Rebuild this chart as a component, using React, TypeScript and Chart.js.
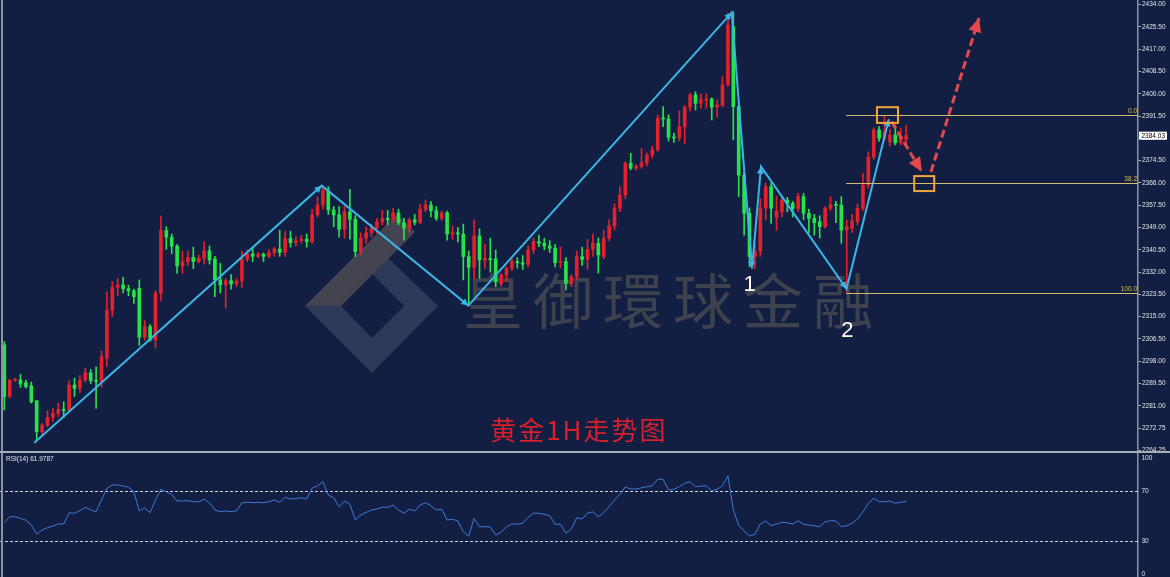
import React, { useEffect, useRef } from 'react';
import { Chart, registerables } from 'chart.js';

Chart.register(...registerables);

// ---------- data (1H gold candles, index 0..167) ----------
const opens = [
  2304.2, 2284.5, 2290.8, 2290.8, 2289.8, 2288.6, 2282.9, 2271.1, 2273.6, 2276.6,
  2278.1, 2279.6, 2279.4, 2288.9, 2287.6, 2290.8, 2293.6, 2290.6, 2290.3, 2299.1,
  2317.5, 2326.2, 2327.1, 2325.7, 2324.8, 2325.8, 2307.1, 2311.2, 2306.1, 2323.9,
  2347.8, 2345.3, 2341.9, 2334.3, 2336, 2337.6, 2336, 2337.3, 2340.1, 2337,
  2329, 2327.1, 2328.7, 2327.5, 2328.6, 2336.9, 2338.9, 2338, 2338.8, 2338,
  2339.4, 2340.8, 2339.5, 2344.9, 2343.2, 2344, 2344.5, 2343.6, 2353.8, 2357.6,
  2363.3, 2355.7, 2353.8, 2348.3, 2355, 2352.1, 2339.8, 2344.9, 2347, 2348.7,
  2351.2, 2352.5, 2351.9, 2354.6, 2350.8, 2348.7, 2351.9, 2351, 2355.9, 2357.6,
  2355.4, 2352.5, 2354.6, 2346.5, 2347, 2346.5, 2337.9, 2333.8, 2345.8, 2336.6,
  2337.2, 2337, 2327.5, 2330.9, 2333.4, 2336, 2335.5, 2335, 2340.4, 2343.6,
  2343, 2342, 2341.1, 2335.6, 2336, 2327.7, 2330.2, 2337.9, 2336.8, 2340.7,
  2343, 2337.9, 2344.9, 2349.6, 2356.3, 2361.4, 2373.5, 2371.6, 2372.3, 2373.7,
  2376.6, 2378.6, 2390.7, 2390.4, 2383.4, 2383.2, 2387.5, 2394.9, 2399.6, 2396.4,
  2397.5, 2398, 2394.9, 2395.7, 2403.4, 2425.6, 2395.1, 2369, 2354.4, 2337.9,
  2340, 2356.4, 2364.6, 2352.9, 2355, 2359.5, 2358.2, 2356.3, 2360.8, 2354.4,
  2352.5, 2351.2, 2349.3, 2356.3, 2357.6, 2357.6, 2348, 2348.7, 2351.2, 2356.3,
  2365.2, 2375.8, 2386.2, 2383, 2381.7, 2384.3, 2381.3, 2382.6,
];
const highs = [
  2305.5, 2291, 2291.5, 2293, 2290.8, 2290, 2283, 2274.3, 2279, 2280,
  2282, 2282.5, 2290.5, 2291.5, 2292.5, 2295.3, 2294.8, 2295.8, 2302, 2324.5,
  2328.3, 2329.5, 2330, 2327, 2325.5, 2329, 2313.5, 2312, 2325, 2353.4,
  2349.3, 2346.5, 2342.5, 2340, 2340, 2341.5, 2338.5, 2343.6, 2342, 2338,
  2335.3, 2329.5, 2331, 2329.5, 2340, 2340.5, 2341, 2339.5, 2339.3, 2340.6,
  2341.5, 2348, 2347.5, 2347.6, 2345.5, 2346, 2346.5, 2355.9, 2360.8, 2364.9,
  2364.6, 2357, 2357, 2357, 2363.6, 2353.5, 2347, 2349.3, 2350.3, 2352.5,
  2355.6, 2355.5, 2356.3, 2356, 2352.5, 2352.5, 2354, 2357.8, 2359.5, 2359,
  2357, 2355.3, 2355.3, 2349.5, 2349, 2350.3, 2340, 2351.9, 2348.5, 2342.7,
  2344.9, 2340.4, 2331.5, 2334, 2337, 2337.5, 2338.3, 2342, 2345, 2346.1,
  2344.9, 2344, 2342.5, 2341.5, 2337.5, 2331, 2340, 2341.5, 2344.5, 2346.5,
  2345, 2348, 2352, 2358, 2364.6, 2374.1, 2377.3, 2373, 2379.2, 2377.5,
  2380, 2392, 2395.1, 2392, 2385, 2393.5, 2395.5, 2400.3, 2400.8, 2400,
  2400, 2398.5, 2397.7, 2406.5, 2430.7, 2431.3, 2395.5, 2370, 2356.5, 2343,
  2360, 2366, 2366, 2361, 2361, 2360.5, 2359, 2362, 2362, 2356,
  2354, 2353.5, 2357, 2360.8, 2359, 2360.8, 2351.9, 2354, 2358, 2369.7,
  2377.9, 2387, 2387.5, 2391.8, 2386.5, 2388, 2387, 2388,
];
const lows = [
  2279.4, 2284, 2290.3, 2288, 2287.8, 2282, 2267.9, 2270, 2273, 2275,
  2276.8, 2276.5, 2279, 2284.5, 2286, 2290, 2289.5, 2280, 2288, 2296,
  2315, 2323, 2324, 2323, 2320, 2304, 2306, 2305.5, 2303, 2321,
  2340.7, 2339, 2331.5, 2331.5, 2334.5, 2333.3, 2335.5, 2335, 2335, 2322.6,
  2324, 2318.2, 2325.5, 2326.5, 2326, 2336, 2336, 2337.5, 2336, 2337.5,
  2338, 2338, 2338, 2341.5, 2342, 2343, 2341.5, 2343, 2353, 2356,
  2354, 2349.3, 2345.3, 2345, 2344.5, 2337.9, 2338.5, 2343, 2345.4, 2346.7,
  2350, 2350, 2351, 2350, 2344.2, 2347, 2350, 2350.5, 2355, 2353,
  2351.7, 2351.7, 2344.2, 2344.5, 2343.5, 2329, 2319.8, 2329.6, 2329.6, 2333.4,
  2332, 2326.4, 2326.5, 2328.5, 2332.5, 2333.5, 2333, 2334, 2339, 2341.7,
  2340.5, 2339.5, 2334, 2333.5, 2325.2, 2326.5, 2329, 2334.5, 2333, 2338,
  2331.6, 2337, 2344, 2348, 2355, 2360, 2371, 2371, 2371.6, 2372.5,
  2375.5, 2378, 2387.5, 2382, 2381.5, 2382, 2381, 2393.5, 2393.8, 2394.5,
  2394.5, 2390, 2391, 2395, 2403, 2382.4, 2360.8, 2346.1, 2334, 2333.2,
  2338, 2352, 2350.6, 2348, 2353, 2355, 2353, 2355, 2352, 2347,
  2346.1, 2345, 2348.7, 2355.5, 2350.8, 2343, 2324.2, 2347, 2350, 2355.5,
  2364, 2375, 2381.8, 2382, 2380, 2380.5, 2380.5, 2381,
];
const closes = [
  2284.5, 2290.8, 2291.2, 2289.3, 2288.3, 2282.5, 2271.1, 2273.6, 2276.6, 2278.1,
  2279.6, 2279.2, 2288.9, 2287.6, 2290.8, 2293.6, 2290.6, 2290.3, 2299.7, 2317.5,
  2326.2, 2327.1, 2325.7, 2324.8, 2322.6, 2307.1, 2311.2, 2306.1, 2323.9, 2347.8,
  2345.3, 2341.9, 2334.3, 2336, 2337.6, 2336, 2337.3, 2340.1, 2336.6, 2329,
  2327.1, 2328.7, 2327.5, 2328.6, 2336.9, 2338.9, 2338, 2338.8, 2338, 2339.4,
  2340.8, 2339.5, 2344.9, 2343.2, 2344, 2344.5, 2343.6, 2353.8, 2357.6, 2363.3,
  2355.7, 2353.8, 2348.3, 2355, 2352.1, 2339.8, 2344.9, 2347, 2348.7, 2351.2,
  2352.5, 2351.9, 2354.6, 2350.8, 2348.7, 2351.9, 2351, 2355.9, 2357.6, 2355.4,
  2352.5, 2354.6, 2346.5, 2347, 2346.5, 2337.9, 2333.8, 2345.8, 2336.6, 2337.2,
  2336.7, 2328.3, 2330.9, 2333.4, 2336, 2335.5, 2335, 2340.4, 2343.6, 2343,
  2342, 2341.1, 2335.6, 2336, 2327.7, 2330.2, 2337.9, 2336.8, 2340.7, 2343,
  2338.5, 2344.9, 2349.6, 2356.3, 2361.4, 2373.5, 2371.6, 2372.3, 2373.7, 2376.6,
  2378.6, 2390.7, 2390.4, 2383.4, 2383.2, 2387.5, 2394.9, 2399.6, 2396.4, 2397.9,
  2398, 2394.9, 2395.7, 2403.4, 2426.3, 2395.1, 2369, 2354.4, 2337.9, 2340,
  2356.4, 2364.6, 2356.3, 2355.4, 2359.5, 2358.2, 2356.3, 2360.8, 2354.4, 2352.5,
  2350.8, 2349.3, 2356.3, 2357.6, 2357.4, 2348, 2349.3, 2351.6, 2356.3, 2365.2,
  2375.8, 2386.2, 2383, 2385.5, 2384.3, 2381.3, 2383.6, 2384.03,
];
const rsiValues = [
  45, 49.8, 49.8, 48.5, 47, 43.2, 36, 39.2, 41.1, 42.4,
  44, 44, 53, 52.6, 54.6, 57.4, 55.2, 53.9, 63.2, 72.6,
  75.2, 75.2, 74.4, 73.4, 69.8, 54.4, 57, 53, 63.2, 71.8,
  69.8, 67.8, 62.4, 62.4, 62.7, 61.8, 61.8, 63.8, 61, 55.2,
  53.9, 54.4, 53.9, 54.4, 61, 61.4, 61, 61.4, 61, 61.8,
  63.2, 61.4, 65.4, 64, 64.3, 65, 64, 72.6, 74.6, 77.8,
  67.2, 65, 57.8, 62.4, 59.8, 47.2, 51.2, 53.3, 55.2, 56,
  57.4, 57.4, 59.2, 55.2, 52.6, 55.8, 54.4, 59.2, 61, 58.6,
  55.2, 56, 47.2, 47.8, 46.4, 37.8, 34.4, 48.5, 41.8, 41.8,
  41.8, 35.2, 37.4, 41.8, 44, 44, 44.6, 49.4, 52.6, 52.6,
  51.8, 50.7, 43.8, 43.8, 36.6, 40, 49, 48, 52.6, 53.8,
  49.8, 53, 58, 63.2, 67.8, 73.6, 72, 72, 73, 73.8,
  74.6, 79.8, 79.8, 71.2, 71.8, 73.8, 76.6, 77.8, 73.8, 74.4,
  74.4, 70.6, 71.8, 74.6, 82.6, 55.2, 43.2, 38.4, 34.4, 35.8,
  44, 46.4, 42.6, 44, 45.4, 45, 44, 46.6, 43.8, 43.2,
  42.6, 41.8, 45.8, 46.6, 46.4, 41.8, 42.6, 44.6, 48, 53.8,
  60.6, 64.6, 61.8, 61.8, 62.4, 60.6, 61.4, 61.98,
];

const priceTickValues = [2434, 2425.5, 2417, 2408.5, 2400, 2391.5, 2383, 2374.5, 2366, 2357.5, 2349, 2340.5, 2332, 2323.5, 2315, 2306.5, 2298, 2289.5, 2281, 2272.5, 2264];
const priceTickLabels = ['2434.00', '2425.50', '2417.00', '2408.50', '2400.00', '2391.50', '2383.00', '2374.50', '2366.00', '2357.50', '2349.00', '2340.50', '2332.00', '2323.50', '2315.00', '2306.50', '2298.00', '2289.50', '2281.00', '2272.75', '2264.25'];
const rsiTickValues = [100, 70, 30, 0];
const rsiTickLabels = ['100', '70', '30', '0'];
const rsiLevels = [70, 30];

// annotations in (candle index, price) space
const zigzagIndex = [5.56, 58.78, 85.93, 134.7, 138.46, 140.13, 155.96, 163.8];
const zigzagPrice = [2266.9, 2364.95, 2319.2, 2430.95, 2333.4, 2372.2, 2325.6, 2390.3];
const projDownIndex = [164.3, 169.9];
const projDownPrice = [2389.4, 2370.3];
const projUpIndex = [171.6, 180.5];
const projUpPrice = [2370.2, 2428.9];
const fibLevels = [2391.9, 2365.9, 2324.1];
const fibLabels = ['0.0', '38.2', '100.0'];
const fibStartIndex = 155.9;
const boxIndexFrom = [161.6, 168.5];
const boxIndexTo = [165.5, 172.2];
const boxPriceTop = [2394.9, 2368.6];
const boxPriceBottom = [2388.9, 2362.9];
const waveLabels = ['1', '2'];
const waveLabelIndex = [138.0, 156.1];
const waveLabelPrice = [2327.1, 2309.5];
const lastPrice = 2384.03;
const lastPriceLabel = '2384.03';
const rsiLabel = 'RSI(14) 61.9787';
const chartTitle = '黄金1H走势图';
const titleIndex = 106.4;
const titlePrice = 2271.7;
const watermarkText = '皇御環球金融';

// ---------- styling ----------
const BG = '#121f42';
const UP = '#e3202b';
const DOWN = '#27e34b';
const BLUE = '#3cb5e6';
const RED_ARROW = '#e5484d';
const ORANGE = '#f2a53a';
const FIB = '#d2bd6c';
const AXIS = '#8d939e';
const TEXT = '#e2e5ea';
const X_MIN = -0.796;
const X_MAX = 209.94;
const AXIS_W = 32;

function arrowHead(ctx: CanvasRenderingContext2D, x0: number, y0: number, x1: number, y1: number, len: number, half: number, color: string) {
  const a = Math.atan2(y1 - y0, x1 - x0);
  const bx = x1 - len * Math.cos(a);
  const by = y1 - len * Math.sin(a);
  ctx.beginPath();
  ctx.moveTo(x1, y1);
  ctx.lineTo(bx + half * Math.sin(a), by - half * Math.cos(a));
  ctx.lineTo(bx - half * Math.sin(a), by + half * Math.cos(a));
  ctx.closePath();
  ctx.fillStyle = color;
  ctx.fill();
}

export default function App() {
  const mainRef = useRef<HTMLCanvasElement>(null);
  const rsiRef = useRef<HTMLCanvasElement>(null);

  useEffect(() => {
    document.body.style.margin = '0';
    const idx = closes.map((_, i) => i);
    const colors = idx.map((i) => (closes[i] >= opens[i] ? UP : DOWN));

    const mainDecor = {
      id: 'mainDecor',
      beforeDatasetsDraw(chart: any) {
        const { ctx, chartArea } = chart;
        const L = chartArea.left;
        const T = chartArea.top;
        ctx.save();
        const poly = (pts: number[][], color: string) => {
          ctx.beginPath();
          pts.forEach((p, k) => (k ? ctx.lineTo(L + p[0], T + p[1]) : ctx.moveTo(L + p[0], T + p[1])));
          ctx.closePath();
          ctx.fillStyle = color;
          ctx.fill();
        };
        poly([[380, 250], [438, 306], [372, 373], [372, 338], [404, 306], [362, 264]], '#2c3959');
        poly([[305, 306], [372, 373], [372, 338], [341, 306]], '#2c3959');
        poly([[305, 306], [397, 214], [415, 232], [341, 306]], '#43444f');
        ctx.font = '60px "Noto Sans CJK TC"';
        (ctx as any).letterSpacing = '10px';
        ctx.fillStyle = '#3d424e';
        ctx.textBaseline = 'middle';
        ctx.textAlign = 'left';
        ctx.fillText(watermarkText, L + 463, T + 301);
        (ctx as any).letterSpacing = '0px';
        ctx.restore();
      },
      afterDatasetsDraw(chart: any) {
        const { ctx, chartArea, scales } = chart;
        const xs = scales.x;
        const ys = scales.y;
        const px = (i: number) => xs.getPixelForValue(i);
        const py = (p: number) => ys.getPixelForValue(p);
        ctx.save();
        // fib levels
        fibLevels.forEach((lv, k) => {
          const y = Math.round(py(lv)) + 0.5;
          ctx.strokeStyle = FIB;
          ctx.lineWidth = 1;
          ctx.beginPath();
          ctx.moveTo(px(fibStartIndex), y);
          ctx.lineTo(chartArea.right, y);
          ctx.stroke();
          ctx.font = '6.5px "Liberation Sans"';
          ctx.fillStyle = '#d4bd50';
          ctx.textAlign = 'right';
          ctx.textBaseline = 'bottom';
          ctx.fillText(fibLabels[k], chartArea.right - 1, y - 1);
        });
        // blue zigzag arrow heads
        for (let k = 1; k < zigzagIndex.length; k++) {
          arrowHead(ctx, px(zigzagIndex[k - 1]), py(zigzagPrice[k - 1]), px(zigzagIndex[k]), py(zigzagPrice[k]), 7, 3.5, BLUE);
        }
        // projection arrow heads
        arrowHead(ctx, px(projDownIndex[0]), py(projDownPrice[0]), px(projDownIndex[1]), py(projDownPrice[1]), 14, 6.5, RED_ARROW);
        arrowHead(ctx, px(projUpIndex[0]), py(projUpPrice[0]), px(projUpIndex[1]), py(projUpPrice[1]), 14, 6.5, RED_ARROW);
        // boxes
        ctx.strokeStyle = ORANGE;
        ctx.lineWidth = 2;
        boxIndexFrom.forEach((f, k) => {
          const x0 = px(f);
          const x1 = px(boxIndexTo[k]);
          const y0 = py(boxPriceTop[k]);
          const y1 = py(boxPriceBottom[k]);
          ctx.strokeRect(x0, y0, x1 - x0, y1 - y0);
        });
        // wave labels
        ctx.fillStyle = '#ffffff';
        ctx.font = '22px "Liberation Sans"';
        ctx.textAlign = 'center';
        ctx.textBaseline = 'middle';
        waveLabels.forEach((t, k) => ctx.fillText(t, px(waveLabelIndex[k]), py(waveLabelPrice[k])));
        // title
        ctx.fillStyle = '#d81f2b';
        ctx.font = '26px "Noto Sans CJK SC"';
        (ctx as any).letterSpacing = '2px';
        ctx.fillText(chartTitle, px(titleIndex), py(titlePrice));
        (ctx as any).letterSpacing = '0px';
        ctx.restore();
      },
      afterDraw(chart: any) {
        const { ctx, chartArea, scales } = chart;
        const y = scales.y.getPixelForValue(lastPrice);
        ctx.save();
        ctx.fillStyle = '#ffffff';
        ctx.fillRect(chartArea.right + 1, y - 4, 28, 8);
        ctx.fillStyle = '#000000';
        ctx.font = '6.5px "Liberation Sans"';
        ctx.textAlign = 'left';
        ctx.textBaseline = 'middle';
        ctx.fillText(lastPriceLabel, chartArea.right + 3.5, y + 0.3);
        ctx.fillStyle = AXIS;
        ctx.fillRect(1, 0, 2, chart.height);
        ctx.restore();
      },
    };

    const main = new Chart(mainRef.current as HTMLCanvasElement, {
      type: 'bar',
      data: {
        datasets: [
          {
            type: 'line',
            label: 'projUp',
            data: projUpIndex.map((x, k) => ({ x, y: projUpPrice[k] })),
            borderColor: RED_ARROW,
            borderWidth: 3,
            borderDash: [8, 4],
            pointRadius: 0,
            order: 0,
          } as any,
          {
            type: 'line',
            label: 'projDown',
            data: projDownIndex.map((x, k) => ({ x, y: projDownPrice[k] })),
            borderColor: RED_ARROW,
            borderWidth: 3,
            borderDash: [8, 4],
            pointRadius: 0,
            order: 0,
          } as any,
          {
            type: 'line',
            label: 'zigzag',
            data: zigzagIndex.map((x, k) => ({ x, y: zigzagPrice[k] })),
            borderColor: BLUE,
            borderWidth: 2,
            pointRadius: 0,
            tension: 0,
            order: 1,
          } as any,
          {
            type: 'bar',
            label: 'body',
            data: idx.map((i) => ({ x: i, y: [opens[i], closes[i]] })),
            backgroundColor: colors,
            borderWidth: 0,
            barThickness: 3,
            minBarLength: 1,
            grouped: false,
            order: 2,
          } as any,
          {
            type: 'bar',
            label: 'wick',
            data: idx.map((i) => ({ x: i, y: [lows[i], highs[i]] })),
            backgroundColor: colors,
            borderWidth: 0,
            barThickness: 1,
            grouped: false,
            order: 3,
          } as any,
        ],
      },
      options: {
        animation: false,
        responsive: false,
        devicePixelRatio: 1,
        events: [],
        layout: { padding: 0 },
        plugins: { legend: { display: false }, tooltip: { enabled: false } },
        scales: {
          x: { type: 'linear', display: false, min: X_MIN, max: X_MAX, offset: false },
          y: {
            position: 'right',
            min: 2263.73,
            max: 2435.79,
            afterBuildTicks: (s: any) => {
              s.ticks = priceTickValues.map((v) => ({ value: v }));
            },
            afterFit: (s: any) => {
              s.width = AXIS_W;
              s.paddingTop = 0;
              s.paddingBottom = 0;
            },
            ticks: {
              autoSkip: false,
              padding: 1,
              color: TEXT,
              font: { size: 6.5, family: 'Liberation Sans' },
              callback: (_v: any, i: number) => priceTickLabels[i],
            },
            grid: { drawOnChartArea: false, drawTicks: true, tickLength: 3, tickColor: '#b5b9c2', color: AXIS },
            border: { display: true, color: AXIS, width: 1.5 },
          },
        },
      } as any,
      plugins: [mainDecor],
    });

    const rsiDecor = {
      id: 'rsiDecor',
      afterDraw(chart: any) {
        const { ctx, chartArea, scales } = chart;
        ctx.save();
        ctx.font = '6.5px "Liberation Sans"';
        ctx.fillStyle = TEXT;
        ctx.textAlign = 'left';
        ctx.textBaseline = 'middle';
        rsiTickValues.forEach((v, k) => {
          let y = scales.y.getPixelForValue(v);
          y = Math.min(Math.max(y, chartArea.top + 5.3), chartArea.bottom - 3);
          ctx.fillText(rsiTickLabels[k], chartArea.right + 3.5, y);
        });
        ctx.fillText(rsiLabel, chartArea.left + 6, chartArea.top + 6.5);
        ctx.fillStyle = AXIS;
        ctx.fillRect(1, 0, 2, chart.height);
        ctx.restore();
      },
    };

    const rsi = new Chart(rsiRef.current as HTMLCanvasElement, {
      type: 'line',
      data: {
        datasets: [
          {
            label: 'RSI',
            data: rsiValues.map((v, i) => ({ x: i, y: v })),
            borderColor: '#3d7bd6',
            borderWidth: 1,
            pointRadius: 0,
            tension: 0,
            order: 0,
          },
          ...rsiLevels.map((lv) => ({
            label: 'level' + lv,
            data: [{ x: X_MIN, y: lv }, { x: X_MAX, y: lv }],
            borderColor: '#cfd3dc',
            borderWidth: 1,
            borderDash: [3, 2],
            pointRadius: 0,
            order: 1,
          })),
        ],
      },
      options: {
        animation: false,
        responsive: false,
        devicePixelRatio: 1,
        events: [],
        layout: { padding: 0 },
        plugins: { legend: { display: false }, tooltip: { enabled: false } },
        scales: {
          x: { type: 'linear', display: false, min: X_MIN, max: X_MAX },
          y: {
            position: 'right',
            min: 1.6,
            max: 100.8,
            afterFit: (s: any) => {
              s.width = AXIS_W;
              s.paddingTop = 0;
              s.paddingBottom = 0;
            },
            ticks: { display: false },
            grid: { drawOnChartArea: false, drawTicks: false },
            border: { display: true, color: AXIS, width: 1.5 },
          },
        },
      } as any,
      plugins: [rsiDecor],
    });

    return () => {
      main.destroy();
      rsi.destroy();
    };
  }, []);

  return (
    <div style={{ position: 'absolute', left: 0, top: 0, width: 1170, height: 577, background: BG, overflow: 'hidden' }}>
      <canvas ref={mainRef} width={1170} height={451} style={{ display: 'block', width: 1170, height: 451 }} />
      <div style={{ height: 2, background: '#a9adb5' }} />
      <canvas ref={rsiRef} width={1170} height={124} style={{ display: 'block', width: 1170, height: 124 }} />
    </div>
  );
}
